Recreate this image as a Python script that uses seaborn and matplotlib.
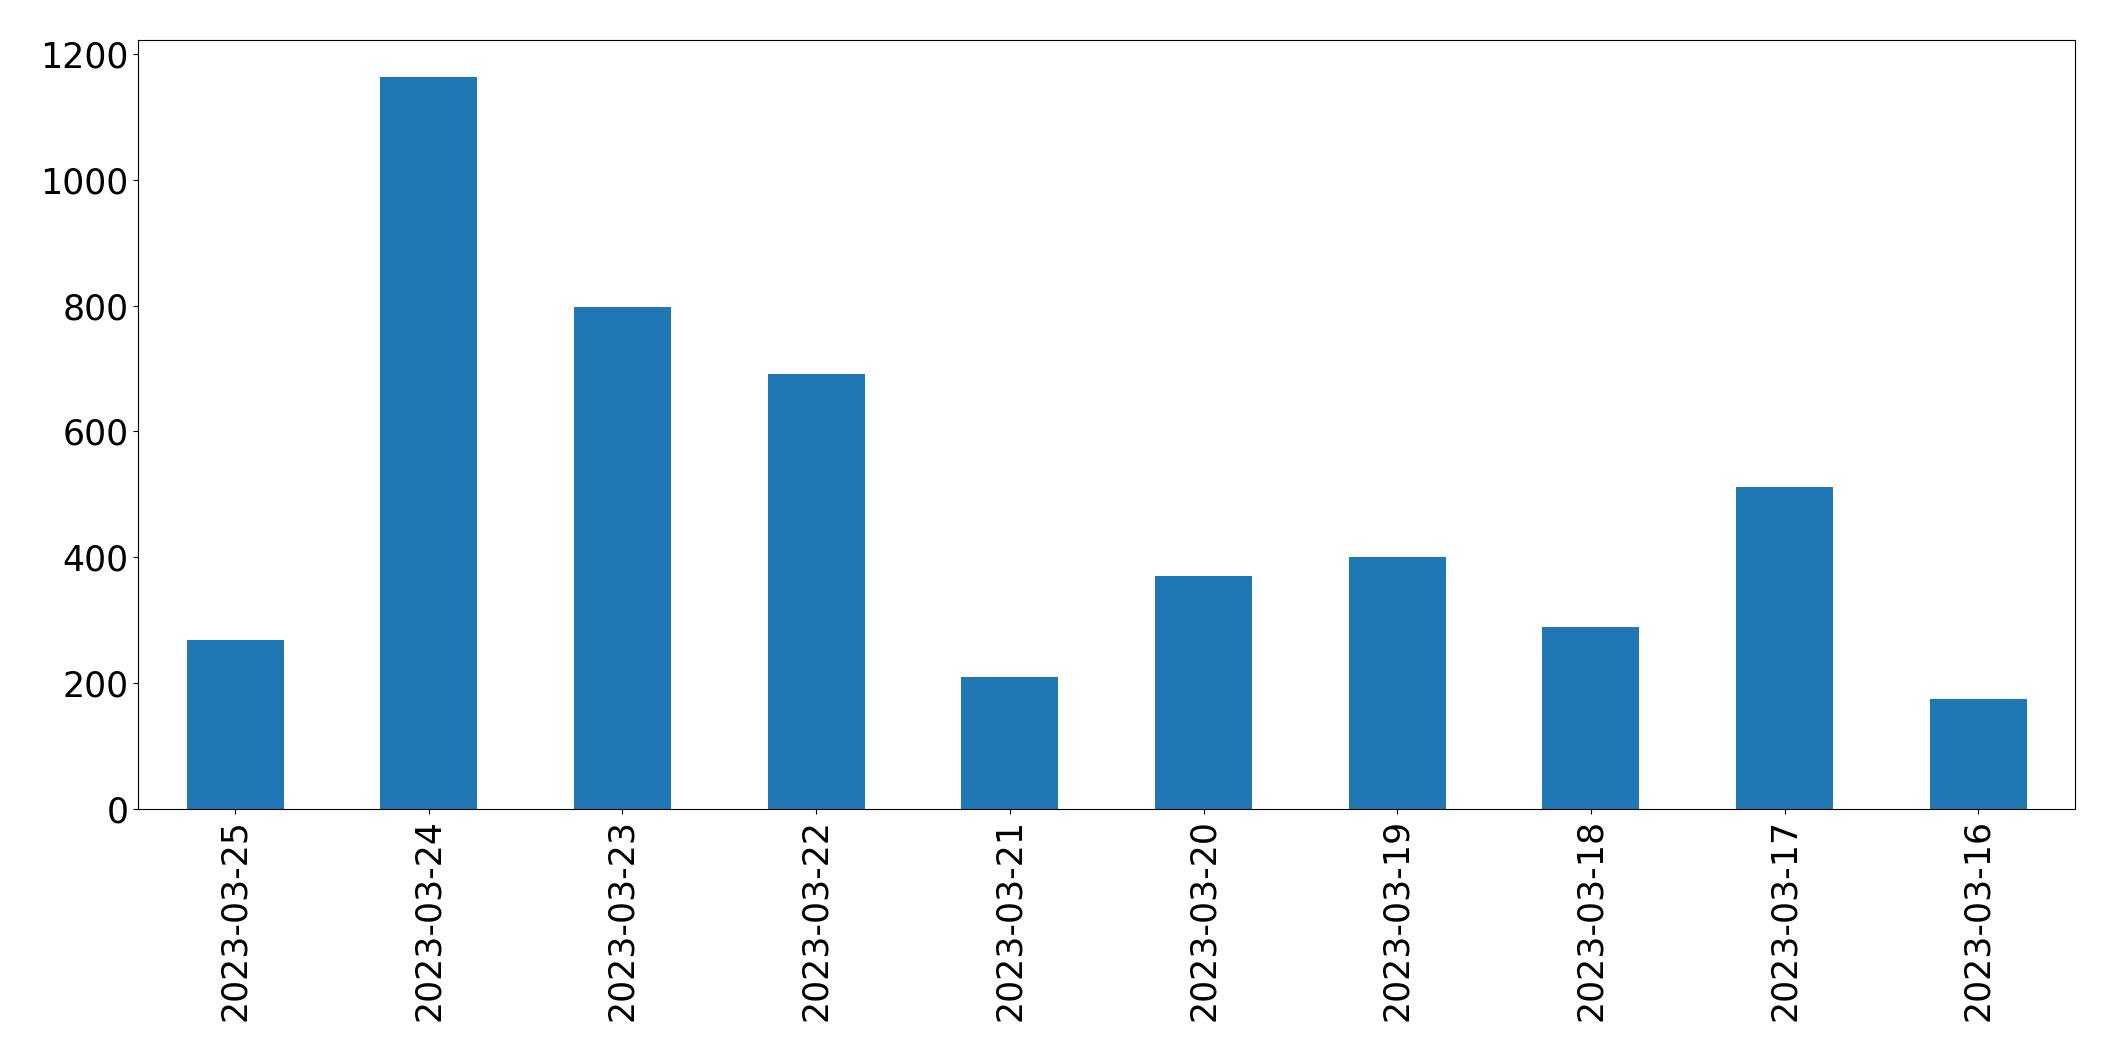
import matplotlib
matplotlib.use("Agg")
import matplotlib.pyplot as plt
import seaborn as sns
import pandas as pd

dates = ["2023-03-25", "2023-03-24", "2023-03-23", "2023-03-22", "2023-03-21",
         "2023-03-20", "2023-03-19", "2023-03-18", "2023-03-17", "2023-03-16"]
counts = [269, 1163, 798, 692, 210, 371, 401, 290, 512, 175]

df = pd.DataFrame({"date": dates, "count": counts})

plt.rcParams['font.family'] = ['DejaVu Sans']
fig = plt.figure(figsize=(21.15, 10.62), dpi=100)
ax = fig.add_axes([0.0654, 0.238, 0.9157, 0.724])
sns.barplot(data=df, x="date", y="count", order=dates, color="#1f77b4",
            saturation=1, width=0.5, ax=ax, errorbar=None)
ax.set_xlabel("")
ax.set_ylabel("")
ax.set_xlim(-0.5, len(dates) - 0.5)
ax.tick_params(axis="both", labelsize=25)
ax.tick_params(axis="x", labelrotation=90)
for s in ax.spines.values():
    s.set_visible(True)
    s.set_color("black")
fig.savefig("out.png", dpi=100)
